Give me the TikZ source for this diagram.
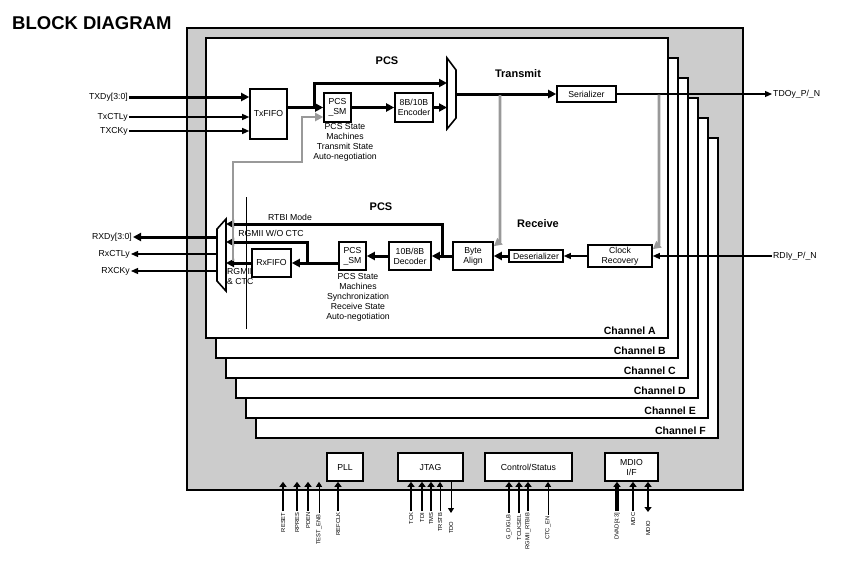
\documentclass[tikz,border=0pt]{standalone}
\usepackage{fontspec}
\setmainfont{Liberation Sans}
\usetikzlibrary{arrows.meta}

\begin{document}
\begin{tikzpicture}[x=1pt,y=-1pt,
    blk/.style={draw, line width=1.6pt, fill=white, inner sep=0.5pt, align=center, font=\fontsize{8.7}{10}\selectfont},
    chan/.style={draw, line width=2pt, fill=white, inner sep=0pt, minimum width=462pt, minimum height=300pt},
    chlbl/.style={font=\fontsize{10.5}{12}\bfseries\selectfont, inner sep=0pt, anchor=south east},
    hd/.style={font=\fontsize{11}{13}\bfseries\selectfont},
    lbl/.style={font=\fontsize{8.7}{10}\selectfont, inner sep=1pt},
    pinl/.style={font=\fontsize{5.8}{6}\selectfont, rotate=90, anchor=east, inner sep=1.5pt},
    bus/.style={line width=3pt, -{Triangle[length=8pt,width=8pt]}},
    sig/.style={line width=1.2pt, -{Triangle[length=7pt,width=6pt]}},
    gsig/.style={line width=2.8pt, black!40, -{Triangle[length=8pt,width=8pt]}},
    pin/.style={line width=2.6pt, -{Triangle[length=5pt,width=7pt]}},
    pint/.style={line width=1pt, -{Triangle[length=5pt,width=6pt]}}]

    \useasboundingbox (0,0) rectangle (861,562);
    \node[font=\fontsize{18.5}{20}\bfseries\selectfont, anchor=west, inner sep=0pt] (Title) at (12,23) {BLOCK DIAGRAM};

    \node[draw, line width=1.4pt, fill=black!20, inner sep=0pt, minimum width=556pt, minimum height=462pt] (Chip) at (465,259) {};

    \node[chan] (ChF) at (487,288) {};
    \node[chlbl] (LF) at ([xshift=-13pt,yshift=4pt]ChF.south east) {Channel F};
    \node[chan] (ChE) at (477,268) {};
    \node[chlbl] (LE) at ([xshift=-13pt,yshift=4pt]ChE.south east) {Channel E};
    \node[chan] (ChD) at (467,248) {};
    \node[chlbl] (LD) at ([xshift=-13pt,yshift=4pt]ChD.south east) {Channel D};
    \node[chan] (ChC) at (457,228) {};
    \node[chlbl] (LC) at ([xshift=-13pt,yshift=4pt]ChC.south east) {Channel C};
    \node[chan] (ChB) at (447,208) {};
    \node[chlbl] (LB) at ([xshift=-13pt,yshift=4pt]ChB.south east) {Channel B};
    \node[chan] (ChA) at (437,188) {};
    \node[chlbl] (LA) at ([xshift=-13pt,yshift=4pt]ChA.south east) {Channel A};

    \coordinate (V1) at (246,197);
    \coordinate (V2) at (246,329);
    \draw[line width=0.8pt] (V1) -- (V2);

    % transmit side
    \node[lbl, anchor=east] (TXD) at (129,97) {TXDy[3:0]};
    \node[lbl, anchor=east] (TXC) at (129,117) {TxCTLy};
    \node[lbl, anchor=east] (TXK) at (129,131) {TXCKy};

    \node[blk, minimum width=37pt, minimum height=50pt] (TxF) at (268.5,114) {TxFIFO};
    \node[blk, minimum width=27pt, minimum height=29pt] (TxSM) at (337.5,107.5) {PCS\\\_SM};
    \node[blk, minimum width=38pt, minimum height=29pt] (Enc) at (414,107.5) {8B/10B\\Encoder};
    \node[blk, minimum width=59pt, minimum height=16pt] (Ser) at (586.5,94) {Serializer};
    \node[lbl, anchor=west] (TDO) at (772,94) {TDOy\_P/\_N};

    \draw[line width=1.6pt, fill=white] (447,58) -- (456,70) -- (456,118) -- (447,129) -- cycle;
    \coordinate (TM1) at (447,83);
    \coordinate (TM2) at (447,107.5);
    \coordinate (TM3) at (456,94);
    \coordinate (T1) at (314,107.5);

    \node[hd] (PT) at (387,61) {PCS};
    \node[hd] (TT) at (518,74) {Transmit};
    \node[lbl, align=center] (TxN) at (345,142) {PCS State\\Machines\\Transmit State\\Auto-negotiation};

    \draw[bus] (TXD.east) -- (TxF.west |- TXD);
    \draw[sig] (TXC.east) -- (TxF.west |- TXC);
    \draw[sig] (TXK.east) -- (TxF.west |- TXK);
    \draw[bus] (TxF.east |- TxSM) -- (TxSM.west);
    \draw[bus] (T1) |- (TM1);
    \draw[bus] (TxSM.east) -- (Enc.west);
    \draw[bus] (Enc.east) -- (TM2);
    \draw[bus] (TM3) -- (Ser.west);
    \draw[sig] (Ser.east) -- (TDO.west);

    % receive side
    \node[lbl, anchor=east] (RXD) at (133,237) {RXDy[3:0]};
    \node[lbl, anchor=east] (RXC) at (131,254) {RxCTLy};
    \node[lbl, anchor=east] (RXK) at (131,271) {RXCKy};

    \draw[line width=1.6pt, fill=white] (226,219) -- (217,229) -- (217,281) -- (226,291) -- cycle;
    \coordinate (RM1) at (226,224);
    \coordinate (RM2) at (226,242);
    \coordinate (RM3) at (226,263);
    \coordinate (RO1) at (217,237);
    \coordinate (RO2) at (217,254);
    \coordinate (RO3) at (217,271);
    \node[lbl, align=left, anchor=west] (RGC) at (226,276.5) {RGMII\\\& CTC};

    \node[blk, minimum width=64pt, minimum height=22pt] (CR) at (620,256) {Clock\\Recovery};
    \node[blk, minimum width=54pt, minimum height=12pt] (Des) at (536,256) {Deserializer};
    \node[blk, minimum width=40pt, minimum height=28pt] (BA) at (473,256) {Byte\\Align};
    \node[blk, minimum width=42pt, minimum height=28pt] (Dec) at (410,256) {10B/8B\\Decoder};
    \node[blk, minimum width=27pt, minimum height=28pt] (RxSM) at (352.5,256) {PCS\\\_SM};
    \node[blk, minimum width=39pt, minimum height=28pt] (RxF) at (271.5,263) {RxFIFO};
    \node[lbl, anchor=west] (RDI) at (772,256) {RDIy\_P/\_N};
    \coordinate (R1) at (442,256);
    \coordinate (R2) at (307,263);

    \node[hd] (PR) at (381,207) {PCS};
    \node[hd] (RT) at (538,224) {Receive};
    \node[lbl] (RTBI) at (290,217) {RTBI Mode};
    \node[lbl] (WOC) at (271,233) {RGMII W/O CTC};
    \node[lbl, align=center] (RxN) at (358,297) {PCS State\\Machines\\Synchronization\\Receive State\\Auto-negotiation};

    \draw[sig] (RDI.west) -- (CR.east);
    \draw[sig] (CR.west) -- (Des.east);
    \draw[bus] (Des.west) -- (BA.east);
    \draw[bus] (BA.west) -- (Dec.east);
    \draw[bus] (R1) |- (RM1);
    \draw[bus] (Dec.west) -- (RxSM.east);
    \draw[bus] ([yshift=-7pt]RxSM.west) -- (RxF.east);
    \draw[bus] (R2) |- (RM2);
    \draw[bus] (RxF.west) -- (RM3);
    \draw[bus] (RO1) -- (RXD.east);
    \draw[sig] (RO2) -- (RXC.east);
    \draw[sig] (RO3) -- (RXK.east);

    % grey paths
    \coordinate (G1) at (500,95);
    \coordinate (G2) at (659,94.5);
    \coordinate (G3) at (233,261);
    \draw[gsig] (G1) -- (G1 |- BA.north) -- ([yshift=-5pt]BA.north east);
    \draw[gsig] (G2) -- (G2 |- CR.north) -- ([yshift=-5pt]CR.north east);
    \draw[gsig] (G3) |- (302,162) |- ([yshift=-9.5pt]TxSM.west);

    % shared blocks
    \node[blk, minimum width=36pt, minimum height=28pt] (PLL) at (345,467) {PLL};
    \node[blk, minimum width=65pt, minimum height=28pt] (JTAG) at (430.5,467) {JTAG};
    \node[blk, minimum width=87pt, minimum height=28pt] (CS) at (528.5,467) {Control/Status};
    \node[blk, minimum width=53pt, minimum height=28pt] (MDIO) at (631.5,467) {MDIO\\I/F};

    \node[pinl] (P1) at (283,511) {RESET};
    \node[pinl] (P2) at (297,511) {RPRES};
    \node[pinl] (P3) at (308,511) {PDEN};
    \node[pinl] (P4) at (319,513) {TEST\_ENB};
    \node[pinl] (P5) at (338,511) {REFCLK};
    \node[pinl] (P6) at (411,511) {TCK};
    \node[pinl] (P7) at (422,511) {TDI};
    \node[pinl] (P8) at (431,511) {TMS};
    \node[pinl] (P9) at (440,511) {TRSTB};
    \node[pinl] (P10) at (451,520) {TDO};
    \node[pinl] (P11) at (509,513) {G\_DIGLB};
    \node[pinl] (P12) at (519,513) {TCLKSEL};
    \node[pinl] (P13) at (528,511) {RGMII\_RTBIB};
    \node[pinl] (P14) at (548,515) {CTC\_EN};
    \node[pinl] (P15) at (617,511) {DVAD[4:3]};
    \node[pinl] (P16) at (633,511) {MDC};
    \node[pinl] (P17) at (648,519) {MDIO};
    \coordinate (P10e) at (451,513);
    \coordinate (P17e) at (648,512);

    \draw[pin] (P1.east) -- (P1.east |- PLL.south);
    \draw[pin] (P2.east) -- (P2.east |- PLL.south);
    \draw[pin] (P3.east) -- (P3.east |- PLL.south);
    \draw[pint] (P4.east) -- (P4.east |- PLL.south);
    \draw[pin] (P5.east) -- (P5.east |- PLL.south);
    \draw[pin] (P6.east) -- (P6.east |- JTAG.south);
    \draw[pin] (P7.east) -- (P7.east |- JTAG.south);
    \draw[pin] (P8.east) -- (P8.east |- JTAG.south);
    \draw[pint] (P9.east) -- (P9.east |- JTAG.south);
    \draw[pint] (JTAG.south -| P10e) -- (P10e);
    \draw[pin] (P11.east) -- (P11.east |- CS.south);
    \draw[pin] (P12.east) -- (P12.east |- CS.south);
    \draw[pin] (P13.east) -- (P13.east |- CS.south);
    \draw[pint] (P14.east) -- (P14.east |- CS.south);
    \draw[pin, line width=3.6pt] (P15.east) -- (P15.east |- MDIO.south);
    \draw[pin] (P16.east) -- (P16.east |- MDIO.south);
    \draw[pin, {Triangle[length=5pt,width=7pt]}-{Triangle[length=5pt,width=7pt]}] (MDIO.south -| P17e) -- (P17e);

\end{tikzpicture}
\end{document}
